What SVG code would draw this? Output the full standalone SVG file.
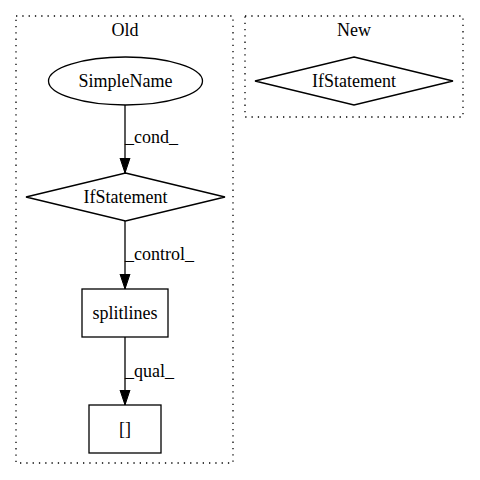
<svg xmlns="http://www.w3.org/2000/svg" width="480" height="480" viewBox="0 0 480 480">
<defs>
<style>
text{font-family:"Liberation Serif","Times New Roman",serif;font-size:18px;fill:#000;text-anchor:middle}
.cl{fill:none;stroke:#000;stroke-dasharray:1.3,5;stroke-width:1.3}
.n{fill:none;stroke:#000;stroke-width:1.3}
.e{fill:none;stroke:#000;stroke-width:1.3}
.lbl{text-anchor:start}
</style>
<marker id="arr" markerWidth="16" markerHeight="12" refX="15" refY="6" orient="auto" markerUnits="userSpaceOnUse"><path d="M0,1 L15,6 L0,11 Z" fill="#000" stroke="#000"/></marker>
</defs>
<rect width="480" height="480" fill="#fff"/>
<g id="cluster_old"><rect class="cl" x="16" y="16" width="217" height="447"/><text x="125" y="36">Old</text></g>
<g id="cluster_new"><rect class="cl" x="245" y="16" width="218" height="101"/><text x="354" y="36">New</text></g>
<g id="connectors">
<path class="e" d="M125,105 L125,173" marker-end="url(#arr)"/>
<text class="lbl" x="125" y="143">_cond_</text>
<path class="e" d="M125,221 L125,289" marker-end="url(#arr)"/>
<text class="lbl" x="125" y="260">_control_</text>
<path class="e" d="M125,337 L125,405" marker-end="url(#arr)"/>
<text class="lbl" x="125" y="377">_qual_</text>
</g>
<g id="simplename"><ellipse class="n" cx="125.5" cy="81" rx="77" ry="24"/><text x="125.5" y="87">SimpleName</text></g>
<g id="ifstatement_old"><polygon class="n" points="125.5,173 225,197 125.5,221 26,197"/><text x="125.5" y="203">IfStatement</text></g>
<g id="splitlines"><rect class="n" x="82" y="289" width="86" height="48"/><text x="125" y="319">splitlines</text></g>
<g id="brackets"><rect class="n" x="89" y="405" width="72" height="48"/><text x="125" y="435">[]</text></g>
<g id="ifstatement_new"><polygon class="n" points="354,57 453,81 354,105 255,81"/><text x="354" y="87">IfStatement</text></g>
</svg>
